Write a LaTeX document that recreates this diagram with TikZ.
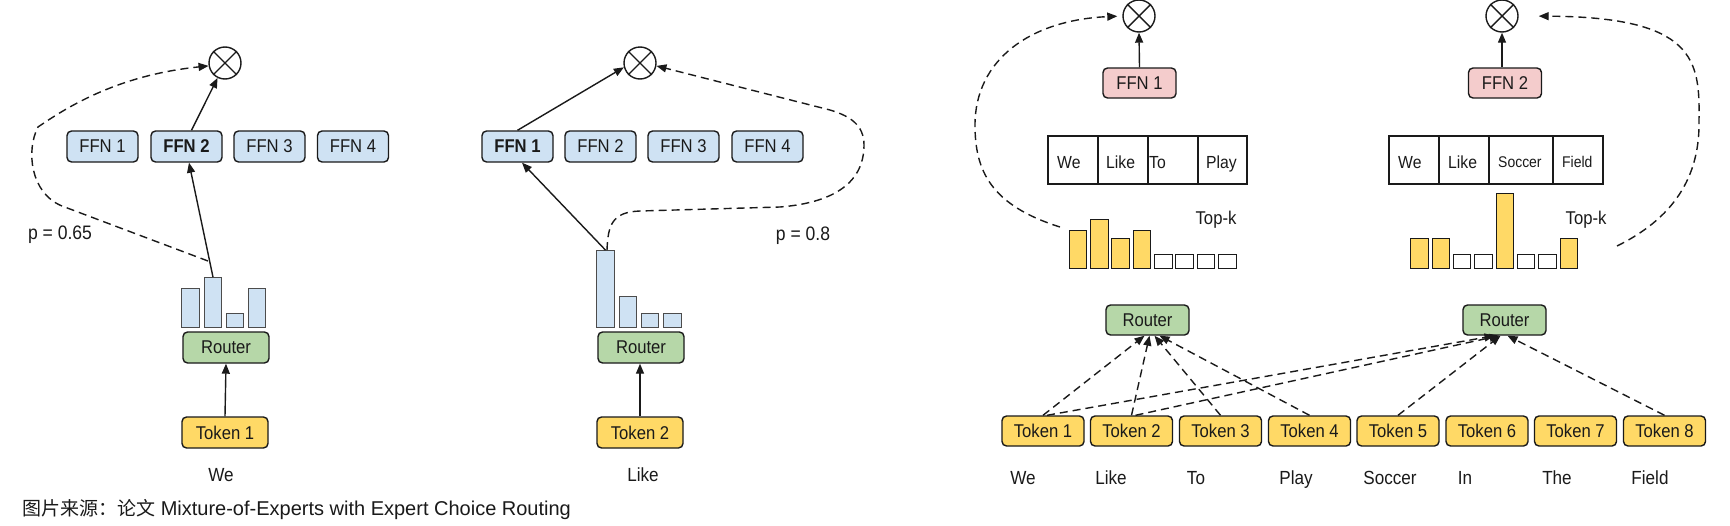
\documentclass[tikz,border=0pt]{standalone}
\usepackage{fontspec}
\setmainfont{Liberation Sans}[FakeStretch=0.9]
\newfontfamily\capfont{Liberation Sans}
\newfontfamily\cjk{Noto Sans CJK SC}
\usetikzlibrary{arrows.meta}
\definecolor{fblue}{HTML}{CFE2F3}
\definecolor{fgreen}{HTML}{B6D7A8}
\definecolor{fyellow}{HTML}{FFD966}
\definecolor{fpink}{HTML}{F4CCCC}
\definecolor{ink}{HTML}{1A1A1A}
\tikzset{
  box/.style={draw=ink, line width=1.4pt, rounded corners=4.5pt, minimum width=71pt, minimum height=31pt, inner sep=0pt, text=ink, font=\fontsize{18.5}{20}\selectfont},
  ffn/.style={box, fill=fblue},
  router/.style={box, fill=fgreen, minimum width=86pt},
  token/.style={box, fill=fyellow, minimum width=86pt},
  rrouter/.style={box, fill=fgreen, minimum width=83pt, minimum height=30pt},
  rtoken/.style={box, fill=fyellow, minimum width=82pt, minimum height=30pt},
  ffnr/.style={box, fill=fpink, minimum width=73pt, minimum height=30pt},
  bbar/.style={draw=black!70, line width=0.9pt, fill=fblue, minimum width=17.5pt, inner sep=0pt, anchor=south},
  ybar/.style={draw=ink, line width=1.2pt, fill=fyellow, minimum width=17.5pt, inner sep=0pt, anchor=south},
  wbar/.style={ybar, fill=white, minimum height=14pt},
  cell/.style={draw=ink, line width=1.3pt, minimum height=48pt, inner sep=0pt},
  celltxt/.style={anchor=base west, inner sep=0pt, text=ink, font=\fontsize{17.5}{19}\selectfont},
  smalltxt/.style={celltxt, font=\fontsize{15.5}{17}\selectfont},
  otimes/.style={circle, draw=ink, line width=1.4pt, minimum size=32pt, inner sep=0pt},
  word/.style={anchor=base, text=ink, inner sep=0pt, font=\fontsize{19}{21}\selectfont},
  lbl/.style={text=ink, inner sep=0pt, font=\fontsize{19.5}{21}\selectfont},
  arr/.style={-{Triangle[length=10pt,width=8pt]}, line width=1.4pt, draw=ink},
  darr/.style={arr, dash pattern=on 8pt off 5pt},
}
\begin{document}
\begin{tikzpicture}[x=1pt,y=-1pt]
\fill[white] (0,0) rectangle (1730,525);
\useasboundingbox (0,0) rectangle (1730,525);

% ---------------- Panel 1 ----------------
\node[otimes] (ot1) at (225,63) {};
\draw[line width=1.4pt, ink] (ot1.45) -- (ot1.225) (ot1.135) -- (ot1.315);
\node[ffn] (fa1) at (102.5,146.5) {FFN 1};
\node[ffn] (fa2) at (186.5,146.5) {\bfseries FFN 2};
\node[ffn] (fa3) at (269.5,146.5) {FFN 3};
\node[ffn] (fa4) at (353,146.5) {FFN 4};
\node[bbar, minimum height=39pt] (a1) at (190.5,328) {};
\node[bbar, minimum height=50pt] (a2) at (213,328) {};
\node[bbar, minimum height=14pt] (a3) at (235,328) {};
\node[bbar, minimum height=39pt] (a4) at (257,328) {};
\node[router] (ra) at (226,347.5) {Router};
\node[token] (ta) at (225,432.5) {Token 1};
\node[word] (wa) at (221,481) {We};
\node[lbl] (pa) at (60,235) {p = 0.65};
\draw[arr] (ta.north) -- (ra.south);
\draw[arr] (a2.north) -- ([xshift=2.5pt]fa2.south);
\draw[arr] ([xshift=5pt]fa2.north) -- (ot1);
\coordinate (dA) at (208,261);
\draw[darr] (dA) -- (62,206) .. controls (30,193) and (26,150) .. (38,127) .. controls (70,105) and (120,75) .. (ot1.190);

% ---------------- Panel 2 ----------------
\node[otimes] (ot2) at (640,63) {};
\draw[line width=1.4pt, ink] (ot2.45) -- (ot2.225) (ot2.135) -- (ot2.315);
\node[ffn] (fb1) at (517.5,146.5) {\bfseries FFN 1};
\node[ffn] (fb2) at (600.5,146.5) {FFN 2};
\node[ffn] (fb3) at (683.5,146.5) {FFN 3};
\node[ffn] (fb4) at (767.5,146.5) {FFN 4};
\node[bbar, minimum height=77pt] (b1) at (605.5,328) {};
\node[bbar, minimum height=31pt] (b2) at (628,328) {};
\node[bbar, minimum height=14pt] (b3) at (650,328) {};
\node[bbar, minimum height=14pt] (b4) at (672.5,328) {};
\node[router] (rb) at (641,347.5) {Router};
\node[token] (tb) at (640,432.5) {Token 2};
\node[word] (wb) at (643,481) {Like};
\node[lbl] (pb) at (803,236) {p = 0.8};
\draw[arr] (tb.north) -- ([xshift=-1pt]rb.south);
\draw[arr] (b1.north) -- ([xshift=4.5pt]fb1.south);
\draw[arr] (fb1.north) -- (ot2.195);
\draw[darr] ([xshift=1.5pt]b1.north) .. controls (608,225) and (612,212) .. (640,211) -- (780,207) .. controls (830,203) and (864,185) .. (864,145) .. controls (864,125) and (850,116) .. (830,110) -- (ot2.-10);

% ---------------- Panel 3 ----------------
\node[otimes] (ot3) at (1139,16) {};
\draw[line width=1.4pt, ink] (ot3.45) -- (ot3.225) (ot3.135) -- (ot3.315);
\node[ffnr] (fc) at (1139.5,83) {FFN 1};
\draw[arr] (fc.north) -- (ot3.south);
\node[cell, minimum width=50pt] (c1) at (1073,160) {};
\node[cell, minimum width=50pt] (c2) at (1123,160) {};
\node[cell, minimum width=50pt] (c3) at (1173,160) {};
\node[cell, minimum width=49pt] (c4) at (1222.5,160) {};
\node[celltxt] (c1t) at (1057,168) {We};
\node[celltxt] (c2t) at (1106,168) {Like};
\node[celltxt] (c3t) at (1149,168) {To};
\node[celltxt] (c4t) at (1206,168) {Play};
\node[ybar, minimum height=38pt] (e1) at (1078,269) {};
\node[ybar, minimum height=49pt] (e2) at (1099.5,269) {};
\node[ybar, minimum height=30pt] (e3) at (1120.5,269) {};
\node[ybar, minimum height=38pt] (e4) at (1142,269) {};
\node[wbar] (e5) at (1163.5,269) {};
\node[wbar] (e6) at (1184.5,269) {};
\node[wbar] (e7) at (1206,269) {};
\node[wbar] (e8) at (1227.5,269) {};
\node[lbl, font=\fontsize{18.5}{20}\selectfont] (kc) at (1216,220) {Top-k};
\coordinate (dC) at (1060,227);
\draw[darr, shorten >=5pt] (dC) .. controls (990,205) and (975,170) .. (975,125) .. controls (975,60) and (1030,20) .. (ot3.west);

% ---------------- Panel 4 ----------------
\node[otimes] (ot4) at (1502,16) {};
\draw[line width=1.4pt, ink] (ot4.45) -- (ot4.225) (ot4.135) -- (ot4.315);
\node[ffnr] (fd) at (1505,83) {FFN 2};
\draw[arr] ([xshift=-3pt]fd.north) -- (ot4.south);
\node[cell, minimum width=50pt] (d1) at (1414,160) {};
\node[cell, minimum width=50pt] (d2) at (1464,160) {};
\node[cell, minimum width=64pt] (d3) at (1521,160) {};
\node[cell, minimum width=50pt] (d4) at (1578,160) {};
\node[celltxt] (d1t) at (1398,168) {We};
\node[celltxt] (d2t) at (1448,168) {Like};
\node[smalltxt] (d3t) at (1498,167.5) {Soccer};
\node[smalltxt] (d4t) at (1562,167.5) {Field};
\node[ybar, minimum height=30pt] (g1) at (1419.5,269) {};
\node[ybar, minimum height=30pt] (g2) at (1441,269) {};
\node[wbar] (g3) at (1462,269) {};
\node[wbar] (g4) at (1483.5,269) {};
\node[ybar, minimum height=75pt] (g5) at (1505,269) {};
\node[wbar] (g6) at (1526,269) {};
\node[wbar] (g7) at (1547.5,269) {};
\node[ybar, minimum height=30pt] (g8) at (1569,269) {};
\node[lbl, font=\fontsize{18.5}{20}\selectfont] (kd) at (1586,220) {Top-k};
\coordinate (dD) at (1617,246);
\draw[darr, shorten >=20pt] (dD) .. controls (1680,215) and (1700,170) .. (1699,120) .. controls (1700,60) and (1695,17) .. (ot4.east);

% ---------------- Right routers and tokens ----------------
\node[rrouter] (rc) at (1147.5,320) {Router};
\node[rrouter] (rd) at (1504.5,320) {Router};
\node[rtoken] (t1) at (1043,431) {Token 1};
\node[rtoken] (t2) at (1131.5,431) {Token 2};
\node[rtoken] (t3) at (1220.5,431) {Token 3};
\node[rtoken] (t4) at (1309.5,431) {Token 4};
\node[rtoken] (t5) at (1398,431) {Token 5};
\node[rtoken] (t6) at (1487,431) {Token 6};
\node[rtoken] (t7) at (1575.5,431) {Token 7};
\node[rtoken] (t8) at (1664.5,431) {Token 8};
\node[word] (w1) at (1023,484) {We};
\node[word] (w2) at (1111,484) {Like};
\node[word] (w3) at (1196,484) {To};
\node[word] (w4) at (1296,484) {Play};
\node[word] (w5) at (1390,484) {Soccer};
\node[word] (w6) at (1465,484) {In};
\node[word] (w7) at (1557,484) {The};
\node[word] (w8) at (1650,484) {Field};
\draw[darr] (t1.north) -- ([xshift=-3pt]rc.south);
\draw[darr] (t2.north) -- ([xshift=2pt]rc.south);
\draw[darr] (t3.north) -- ([xshift=7pt]rc.south);
\draw[darr] (t4.north) -- ([xshift=12pt]rc.south);
\draw[darr] ([xshift=4pt]t1.north) -- ([xshift=-10pt]rd.south);
\draw[darr] ([xshift=4pt]t2.north) -- ([xshift=-5pt]rd.south);
\draw[darr] (t5.north) -- ([xshift=-4pt]rd.south);
\draw[darr] (t8.north) -- ([xshift=3pt]rd.south);

% ---------------- Caption ----------------
\node[anchor=west, inner sep=0pt, text=ink, font=\capfont\fontsize{20}{22}\selectfont] (cap) at (22,510) {{\cjk\fontsize{19}{22}\selectfont 图片来源：论文} Mixture-of-Experts with Expert Choice Routing};
\end{tikzpicture}
\end{document}
